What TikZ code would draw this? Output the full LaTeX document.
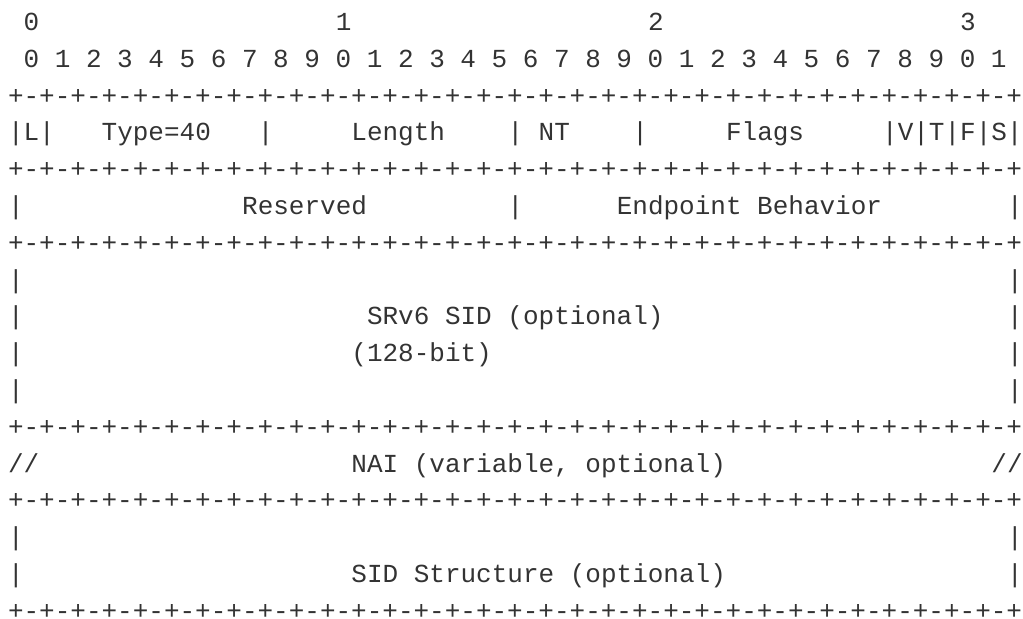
\documentclass[tikz,border=0pt]{standalone}
\usepackage{fontspec}
\setmonofont{Liberation Mono}
\definecolor{ink}{HTML}{333333}
\newcommand\seg[3]{\node[asc] (r#1c#2) at ({8bp+#2*15.61bp},{-30.5bp-#1*36.8bp}) {#3};}
\newcommand\plusrow{+-+-+-+-+-+-+-+-+-+-+-+-+-+-+-+-+-+-+-+-+-+-+-+-+-+-+-+-+-+-+-+-+}
\tikzset{asc/.style={anchor=base west,inner sep=0pt,outer sep=0pt,text=ink,
  font=\ttfamily\frenchspacing\fontsize{26.1pt}{36pt}\selectfont}}
\begin{document}
\begin{tikzpicture}
\useasboundingbox (0,0) rectangle (1023bp,-619bp);
% header
\seg{0}{1}{0}\seg{0}{21}{1}\seg{0}{41}{2}\seg{0}{61}{3}
\seg{1}{1}{0 1 2 3 4 5 6 7 8 9 0 1 2 3 4 5 6 7 8 9 0 1 2 3 4 5 6 7 8 9 0 1}
\seg{2}{0}{\plusrow}
% first word
\seg{3}{0}{|L|}\seg{3}{6}{Type=40}\seg{3}{16}{|}\seg{3}{22}{Length}
\seg{3}{32}{|}\seg{3}{34}{NT}\seg{3}{40}{|}\seg{3}{46}{Flags}\seg{3}{56}{|V|T|F|S|}
\seg{4}{0}{\plusrow}
% second word
\seg{5}{0}{|}\seg{5}{15}{Reserved}\seg{5}{32}{|}\seg{5}{39}{Endpoint Behavior}\seg{5}{64}{|}
\seg{6}{0}{\plusrow}
% SRv6 SID
\seg{7}{0}{|}\seg{7}{64}{|}
\seg{8}{0}{|}\seg{8}{23}{SRv6 SID (optional)}\seg{8}{64}{|}
\seg{9}{0}{|}\seg{9}{22}{(128-bit)}\seg{9}{64}{|}
\seg{10}{0}{|}\seg{10}{64}{|}
\seg{11}{0}{\plusrow}
% NAI
\seg{12}{0}{//}\seg{12}{22}{NAI (variable, optional)}\seg{12}{63}{//}
\seg{13}{0}{\plusrow}
% SID structure
\seg{14}{0}{|}\seg{14}{64}{|}
\seg{15}{0}{|}\seg{15}{22}{SID Structure (optional)}\seg{15}{64}{|}
\seg{16}{0}{\plusrow}
\end{tikzpicture}
\end{document}
